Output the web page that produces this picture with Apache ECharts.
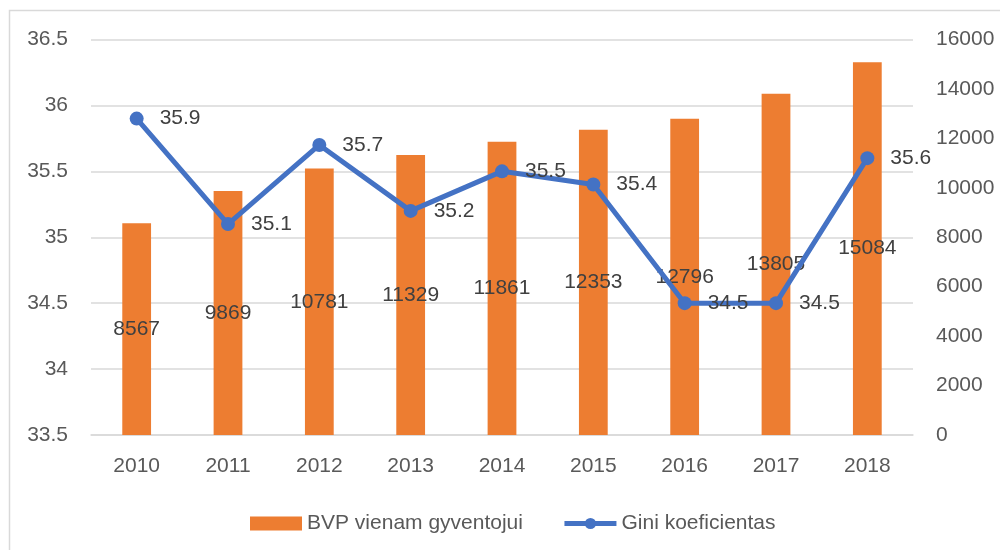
<!DOCTYPE html>
<html>
<head>
<meta charset="utf-8">
<script src="https://cdn.jsdelivr.net/npm/echarts@6/dist/echarts.min.js"></script>
<style>html,body{margin:0;padding:0;background:#fff}#c{width:1000px;height:550px}</style>
</head>
<body>
<div id="c"></div>
<script>
const years = ['2010','2011','2012','2013','2014','2015','2016','2017','2018'];
const bvp = [8567, 9869, 10781, 11329, 11861, 12353, 12796, 13805, 15084];
const gini = [35.9, 35.1, 35.7, 35.2, 35.5, 35.4, 34.5, 34.5, 35.6];

const FONT = '"Liberation Sans", Arial, sans-serif';
const chart = echarts.init(document.getElementById('c'), null, {renderer: 'canvas'});
chart.setOption({
  animation: false,
  backgroundColor: '#fff',
  textStyle: {fontFamily: FONT},
  graphic: [{
    type: 'rect', silent: true, z: -10,
    shape: {x: 9.5, y: 10.5, width: 1000, height: 600},
    style: {fill: 'none', stroke: '#d9d9d9', lineWidth: 1.5}
  }],
  grid: {left: 91, right: 87, top: 39.5, bottom: 115, containLabel: false},
  legend: {
    left: 245, top: 508,
    itemWidth: 52, itemHeight: 14, itemGap: 39,
    textStyle: {fontSize: 21, color: '#595959', fontFamily: FONT},
    data: [
      {name: 'BVP vienam gyventojui', icon: 'rect'},
      {name: 'Gini koeficientas', lineStyle: {width: 5, color: '#4472C4'}, itemStyle: {color: '#4472C4'}}
    ]
  },
  xAxis: {
    type: 'category', data: years,
    axisLine: {show: true, lineStyle: {color: '#d9d9d9', width: 1.5}},
    axisTick: {show: false},
    axisLabel: {fontSize: 21, color: '#595959', margin: 21, fontFamily: FONT}
  },
  yAxis: [{
    type: 'value', min: 33.5, max: 36.5, interval: 0.5, position: 'left',
    axisLine: {show: false}, axisTick: {show: false},
    splitLine: {lineStyle: {color: '#d9d9d9', width: 1.5}},
    axisLabel: {fontSize: 21, color: '#595959', margin: 23, fontFamily: FONT}
  }, {
    type: 'value', min: 0, max: 16000, interval: 2000, position: 'right',
    axisLine: {show: false}, axisTick: {show: false},
    splitLine: {show: false},
    axisLabel: {fontSize: 21, color: '#595959', margin: 23, fontFamily: FONT,
      formatter: function (v) { return String(v); }}
  }],
  series: [{
    name: 'BVP vienam gyventojui', type: 'bar', yAxisIndex: 1,
    data: bvp, barWidth: '31.5%',
    itemStyle: {color: '#ED7D31'},
    label: {show: true, position: 'inside', fontSize: 21, color: '#404040', fontFamily: FONT},
    z: 2
  }, {
    name: 'Gini koeficientas', type: 'line', yAxisIndex: 0,
    data: gini,
    symbol: 'circle', symbolSize: 14,
    lineStyle: {color: '#4472C4', width: 5},
    itemStyle: {color: '#4472C4'},
    label: {show: true, position: 'right', distance: 16, fontSize: 21, color: '#404040', fontFamily: FONT},
    z: 3
  }]
});
</script>
</body>
</html>
